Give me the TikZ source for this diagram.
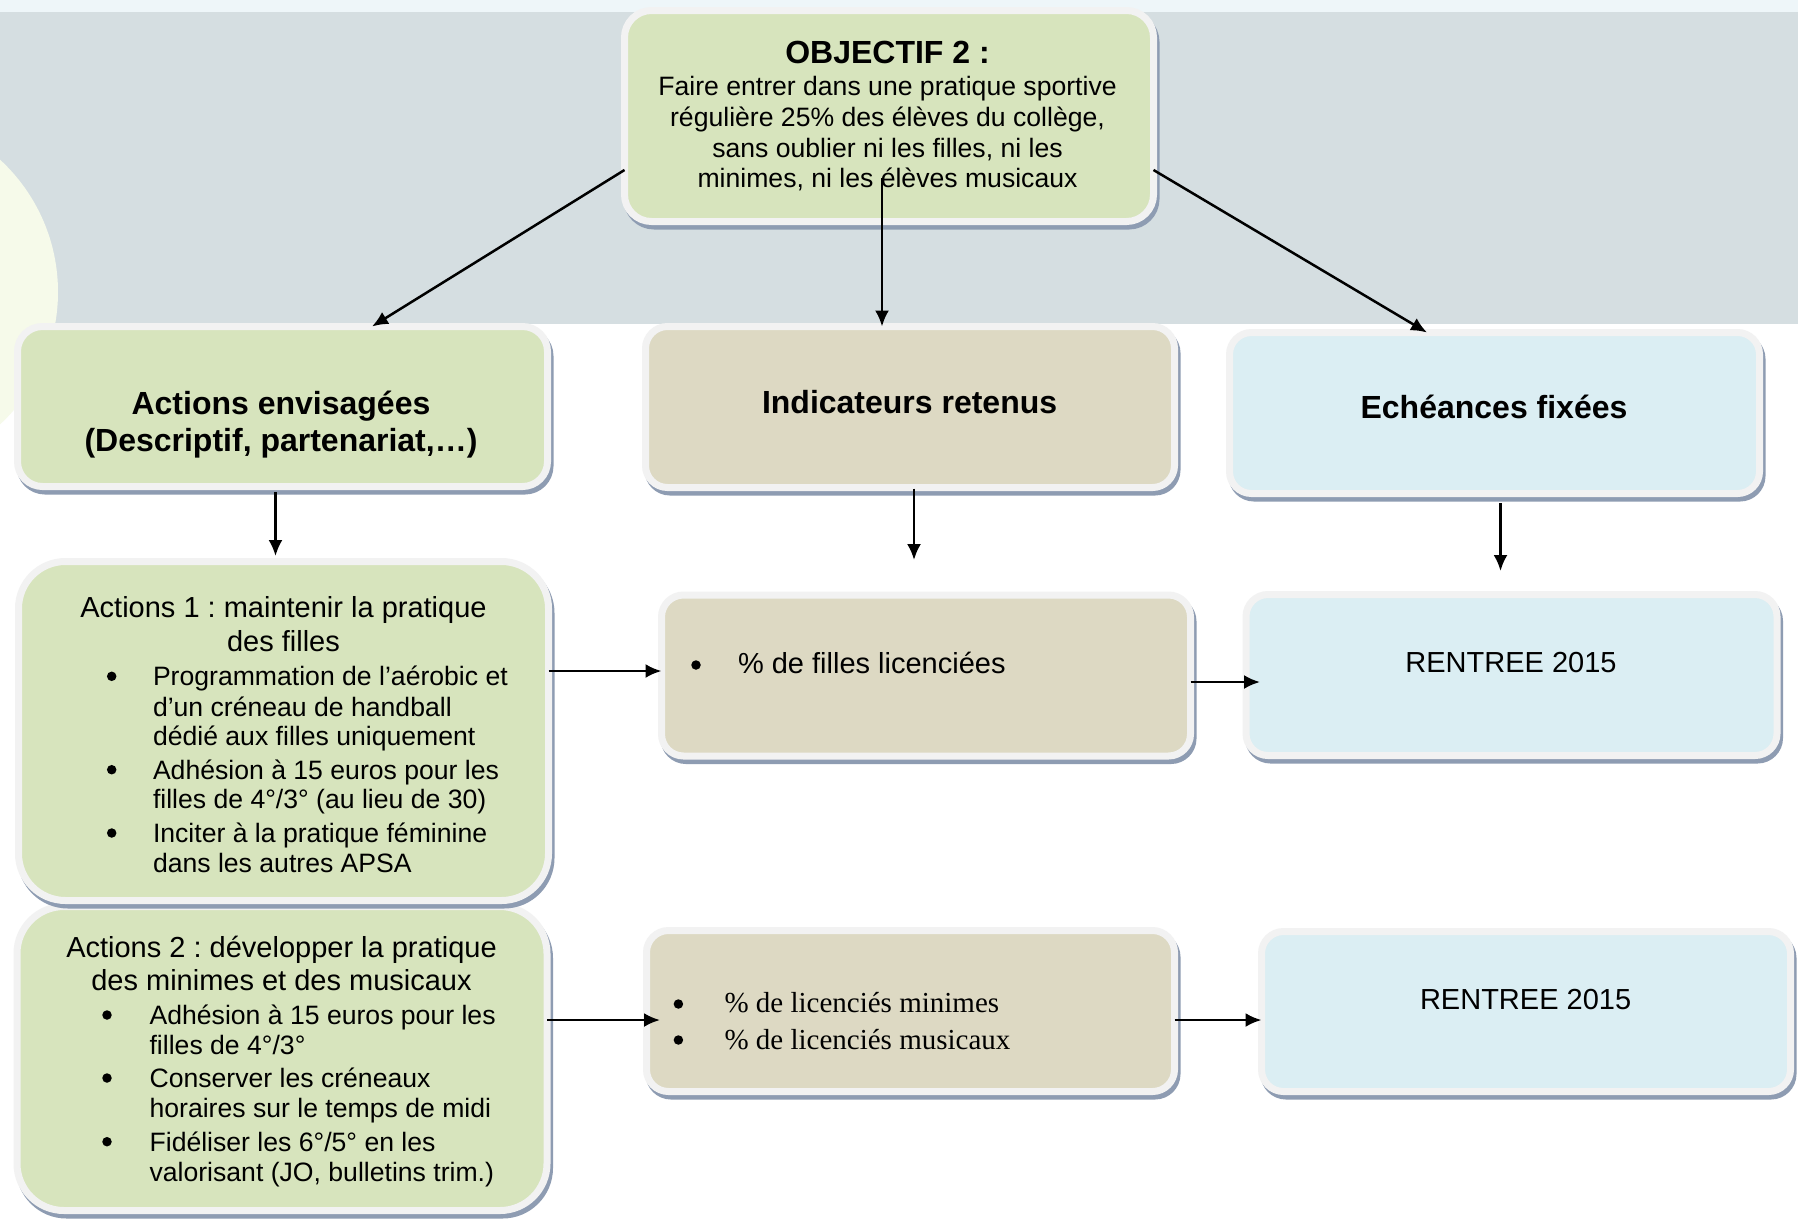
\documentclass[tikz,border=0pt]{standalone}
\usepackage{fontspec}
\setmainfont{Liberation Sans}
\newfontfamily\serifTNR{Liberation Serif}
\usetikzlibrary{arrows.meta,calc}

\definecolor{bandcol}{HTML}{D5DEE1}
\definecolor{stripcol}{HTML}{EEF6F9}
\definecolor{circcol}{HTML}{F6FAEA}
\definecolor{greenfill}{HTML}{D7E4BD}
\definecolor{tanfill}{HTML}{DDD9C3}
\definecolor{bluefill}{HTML}{DBEEF3}
\definecolor{bordercol}{HTML}{F2F2F2}
\definecolor{shadowcol}{HTML}{8E9CB2}

\newcommand\fBold{\fontsize{32}{38}\selectfont\bfseries}
\newcommand\fMid{\fontsize{29}{33}\selectfont}
\newcommand\fSm{\fontsize{26.6}{30.6}\selectfont}
\frenchspacing

\begin{document}
\begin{tikzpicture}[x=1pt,y=-1pt,
  card/.style={rectangle, draw=bordercol, line width=7pt, inner sep=0pt, outer sep=0pt,
     preaction={draw=shadowcol, fill=shadowcol, line width=7pt,
                transform canvas={shift={(2.5pt,-4.5pt)}}}},
  txt/.style={inner sep=0pt, outer sep=0pt, text=black},
  dot/.style={circle, fill=black, inner sep=0pt, minimum size=9.5pt},
  conn/.style={line width=2.5pt, draw=black, -{Latex[length=16pt,width=14pt]}}
]
\useasboundingbox (0,0) rectangle (1798,1224);
\fill[white] (0,0) rectangle (1798,1224);
% background band
\fill[stripcol] (0,0) rectangle (1798,11.5);
\fill[bandcol] (0,11.5) rectangle (1798,324);
\begin{scope}
  \clip (0,11.5) rectangle (1798,1224);
  \fill[circcol] (-122,292) circle (180pt);
\end{scope}

% boxes
\node[card, fill=greenfill, rounded corners=27pt, minimum width=529pt, minimum height=211pt] (top) at (889,116) {};
\node[card, fill=greenfill, rounded corners=25pt, minimum width=530pt, minimum height=160pt] (aenv) at (282.5,406.5) {};
\node[card, fill=tanfill, rounded corners=22pt, minimum width=529pt, minimum height=161pt] (ind) at (910,407) {};
\node[card, fill=bluefill, rounded corners=22pt, minimum width=530pt, minimum height=161pt] (ech) at (1494.5,413) {};
\node[card, fill=greenfill, rounded corners=47pt, minimum width=530pt, minimum height=304pt] (a2) at (282,1058.5) {};
\node[card, fill=greenfill, rounded corners=47pt, minimum width=530pt, minimum height=339pt] (a1) at (283.5,731) {};
\node[card, fill=tanfill, rounded corners=22pt, minimum width=529pt, minimum height=161pt] (i1) at (926,675.5) {};
\node[card, fill=bluefill, rounded corners=22pt, minimum width=531pt, minimum height=161pt] (e1) at (1511.5,675) {};
\node[card, fill=tanfill, rounded corners=22pt, minimum width=528pt, minimum height=161pt] (i2) at (910.5,1011) {};
\node[card, fill=bluefill, rounded corners=22pt, minimum width=529pt, minimum height=160pt] (e2) at (1526,1011.5) {};

% texts: top box
\node[txt, anchor=base, font=\fBold] (tt0) at (887.5,63.2) {OBJECTIF 2 :};
\node[txt, anchor=base, font=\fSm] (tt1) at (887.5,95.8) {Faire entrer dans une pratique sportive};
\node[txt, anchor=base, font=\fSm] (tt2) at (887.5,126.4) {régulière 25\% des élèves du collège,};
\node[txt, anchor=base, font=\fSm] (tt3) at (887.5,157.1) {sans oublier ni les filles, ni les};
\node[txt, anchor=base, font=\fSm] (tt4) at (887.5,187.7) {minimes, ni les élèves musicaux};

% headers
\node[txt, anchor=base, font=\fBold] (aenv1) at (281,414.5) {Actions envisagées};
\node[txt, anchor=base, font=\fBold] (aenv2) at (281,451.5) {(Descriptif, partenariat,…)};
\node[txt, anchor=base, font=\fBold] (indt) at (909.6,413.3) {Indicateurs retenus};
\node[txt, anchor=base, font=\fBold] (echt) at (1494,418) {Echéances fixées};

% Actions 1
\node[txt, anchor=base, font=\fMid] (a1t1) at (283.5,617.5) {Actions 1 : maintenir la pratique};
\node[txt, anchor=base, font=\fMid] (a1t2) at (283.5,651) {des filles};
\node[dot] (a1b1) at (111.7,676.3) {};
\node[dot] (a1b2) at (111.7,769.7) {};
\node[dot] (a1b3) at (111.7,833) {};
\node[txt, anchor=base west, font=\fSm] (a1l1) at (153,685.6) {Programmation de l’aérobic et};
\node[txt, anchor=base west, font=\fSm] (a1l2) at (153,716) {d’un créneau de handball};
\node[txt, anchor=base west, font=\fSm] (a1l3) at (153,745.6) {dédié aux filles uniquement};
\node[txt, anchor=base west, font=\fSm] (a1l4) at (153,779.3) {Adhésion à 15 euros pour les};
\node[txt, anchor=base west, font=\fSm] (a1l5) at (153,808.6) {filles de 4°/3° (au lieu de 30)};
\node[txt, anchor=base west, font=\fSm] (a1l6) at (153,842.6) {Inciter à la pratique féminine};
\node[txt, anchor=base west, font=\fSm] (a1l7) at (153,872.3) {dans les autres APSA};

% Actions 2
\node[txt, anchor=base, font=\fMid] (a2t1) at (281.5,957) {Actions 2 : développer la pratique};
\node[txt, anchor=base, font=\fMid] (a2t2) at (281.5,990.4) {des minimes et des musicaux};
\node[dot] (a2b1) at (107,1015) {};
\node[dot] (a2b2) at (107,1078) {};
\node[dot] (a2b3) at (107,1141.7) {};
\node[txt, anchor=base west, font=\fSm] (a2l1) at (149.6,1024.6) {Adhésion à 15 euros pour les};
\node[txt, anchor=base west, font=\fSm] (a2l2) at (149.6,1054.6) {filles de 4°/3°};
\node[txt, anchor=base west, font=\fSm] (a2l3) at (149.6,1087.6) {Conserver les créneaux};
\node[txt, anchor=base west, font=\fSm] (a2l4) at (149.6,1117.6) {horaires sur le temps de midi};
\node[txt, anchor=base west, font=\fSm] (a2l5) at (149.6,1151.3) {Fidéliser les 6°/5° en les};
\node[txt, anchor=base west, font=\fSm] (a2l6) at (149.6,1181.3) {valorisant (JO, bulletins trim.)};

% indicators / deadlines
\node[dot] (i1b) at (696,665) {};
\node[txt, anchor=base west, font=\fMid] (i1t) at (738,673.3) {\% de filles licenciées};
\node[txt, anchor=base, font=\fMid] (e1t) at (1511,672.7) {RENTREE 2015};
\node[dot] (i2b1) at (678.4,1004) {};
\node[dot] (i2b2) at (678.4,1040) {};
\node[txt, anchor=base west, font=\fMid\serifTNR] (i2t1) at (724.5,1012.5) {\% de licenciés minimes};
\node[txt, anchor=base west, font=\fMid\serifTNR] (i2t2) at (724.5,1049) {\% de licenciés musicaux};
\node[txt, anchor=base, font=\fMid] (e2t) at (1525.6,1009) {RENTREE 2015};

% connectors
\coordinate (s1) at ([yshift=-54pt]top.west);
\coordinate (e1c) at ([xshift=89.5pt]aenv.north);
\draw[conn] (s1) -- (e1c);

\coordinate (s2) at ([xshift=-7pt,yshift=-62pt]top.center);
\draw[conn] (s2) -- (s2 |- ind.north);

\coordinate (s3) at ([yshift=-54pt]top.east);
\coordinate (e3c) at ([xshift=-67.5pt]ech.north);
\draw[conn] (s3) -- (e3c);

\coordinate (s4) at ([xshift=-7pt,yshift=-5.5pt]aenv.south);
\coordinate (e4c) at ([yshift=5.5pt]a1.north);
\draw[conn] (s4) -- (s4 |- e4c);

\coordinate (s5) at ([xshift=4pt,yshift=-1pt]ind.south);
\coordinate (e5c) at ([yshift=35pt]i1.north);
\draw[conn] (s5) -- (s5 |- e5c);

\coordinate (s6) at ([xshift=6pt,yshift=-9.5pt]ech.south);
\coordinate (e6c) at ([yshift=23.5pt]e1.north);
\draw[conn] (s6) -- (s6 |- e6c);

\coordinate (s7) at ([yshift=60pt]a1.east);
\draw[conn] (s7) -- (s7 -| i1.west);

\coordinate (s8) at ([yshift=-6.5pt]i1.east);
\coordinate (e8c) at ([xshift=14pt]e1.west);
\draw[conn] (s8) -- (s8 -| e8c);

\coordinate (s9) at ([yshift=38.5pt]a2.east);
\coordinate (e9c) at ([xshift=13.5pt]i2.west);
\draw[conn] (s9) -- (s9 -| e9c);

\coordinate (s10) at ([yshift=-9pt]i2.east);
\draw[conn] (s10) -- (s10 -| e2.west);
\end{tikzpicture}
\end{document}
